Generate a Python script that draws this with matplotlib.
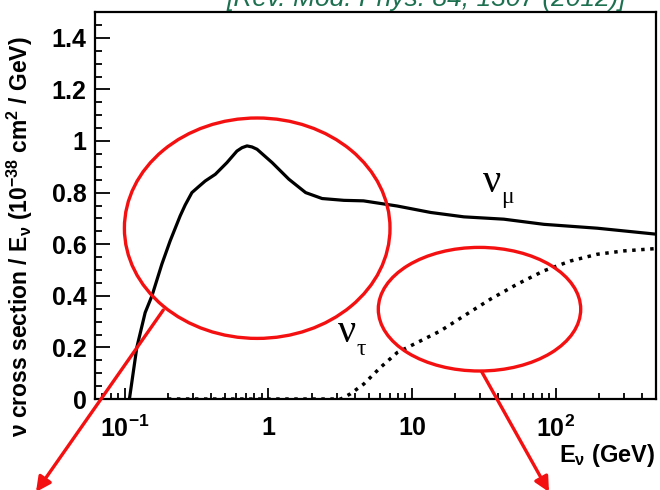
import matplotlib
matplotlib.use("Agg")
import matplotlib.pyplot as plt
from matplotlib.patches import Ellipse, FancyArrowPatch
from matplotlib.ticker import FixedLocator, FixedFormatter, MultipleLocator, LogLocator, NullFormatter

plt.rcParams.update({
    "font.family": "Liberation Sans",
    "font.weight": "bold",
    "mathtext.fontset": "custom",
    "mathtext.rm": "Liberation Sans:bold",
    "mathtext.it": "Liberation Sans:bold",
    "mathtext.bf": "Liberation Sans:bold",
    "mathtext.sf": "Liberation Sans:bold",
})

RED = "#f41010"
GREEN = "#1d7050"
W, H = 660, 490

# nu_mu CC cross section / E  (1e-38 cm^2 / GeV)
NUMU_E = [0.108, 0.1216, 0.139, 0.155, 0.1817, 0.2075, 0.2437, 0.264, 0.294, 0.326, 0.364,
          0.428, 0.515, 0.605, 0.656, 0.711, 0.77, 0.835, 1.065, 1.39, 1.82, 2.37, 3.36, 4.6,
          7.9, 13.5, 23, 43.6, 83, 195, 498]
NUMU_XS = [0.0, 0.2, 0.335, 0.4, 0.523, 0.613, 0.71, 0.752, 0.80, 0.822, 0.845,
           0.871, 0.916, 0.961, 0.974, 0.981, 0.977, 0.968, 0.916, 0.852, 0.80, 0.777, 0.770,
           0.768, 0.748, 0.723, 0.706, 0.697, 0.677, 0.662, 0.639]

# nu_tau
NUTAU_E = [0.2, 3.2, 3.73, 4.62, 6.03, 7.9, 10.9, 15.8, 23, 35.2, 54, 83, 127, 195, 299, 498]
NUTAU_XS = [0.0, 0.0, 0.02, 0.058, 0.122, 0.18, 0.219, 0.264, 0.322, 0.387, 0.445, 0.497,
            0.535, 0.561, 0.574, 0.583]

XTICKS = [0.1, 1, 10, 100]
XTICKLABELS = [r"10$^{-1}$", "1", "10", r"10$^{2}$"]

# red highlight ellipses, in pixels: (cx, cy, half-width, half-height)
ELLIPSES = [(257.2, 228.2, 132.8, 110.2), (479.5, 309.2, 101.2, 61.8)]
ARROWS = [((163.3, 310.0), (36.0, 492.0)), ((481.7, 371.7), (549.0, 492.0))]

fig = plt.figure(figsize=(6.6, 4.9), dpi=100)
fig.patch.set_facecolor("white")
ax = fig.add_axes([95 / W, 1 - 399 / H, (656 - 95) / W, (399 - 12) / H])

ax.plot(NUMU_E, NUMU_XS, color="black", lw=2.3, solid_joinstyle="round",
        solid_capstyle="round", zorder=3)
ax.plot(NUTAU_E, NUTAU_XS, color="black", lw=2.5, ls=(0, (1, 1.6)),
        dash_capstyle="butt", zorder=3)

ax.set_xscale("log")
ax.set_xlim(0.0622, 500)
ax.set_ylim(0, 1.5)

ax.xaxis.set_major_locator(FixedLocator(XTICKS))
ax.xaxis.set_major_formatter(FixedFormatter(XTICKLABELS))
ax.xaxis.set_minor_locator(LogLocator(base=10, subs=range(2, 10)))
ax.xaxis.set_minor_formatter(NullFormatter())
ax.yaxis.set_major_locator(MultipleLocator(0.2))
ax.yaxis.set_minor_locator(MultipleLocator(0.05))
ax.yaxis.set_major_formatter(lambda v, p: f"{v:g}")

ax.tick_params(axis="both", which="both", direction="in", top=False, right=False,
               colors="black", width=1.3, labelsize=18)
ax.tick_params(axis="y", which="major", length=10.5, pad=6)
ax.tick_params(axis="y", which="minor", length=5)
ax.tick_params(axis="x", which="major", length=8, pad=12)
ax.tick_params(axis="x", which="minor", length=4)
for s in ax.spines.values():
    s.set_linewidth(1.6)

fig.text(20 / W, 1 - 237 / H,
         r"$\nu$ cross section / E$_{\nu}$ (10$^{-38}$ cm$^{2}$ / GeV)",
         rotation=90, ha="center", va="center", fontsize=16.5)
fig.text(655 / W, 1 - 455 / H, r"E$_{\nu}$ (GeV)", ha="right", va="center", fontsize=17)

# curve labels
serif = "Liberation Serif"
ax.text(36, 0.84, "ν", fontsize=29, family=serif, weight="normal", ha="center", va="center")
ax.text(46, 0.782, "μ", fontsize=17, family=serif, weight="normal", ha="center", va="center")
ax.text(3.55, 0.256, "ν", fontsize=29, family=serif, weight="normal", ha="center", va="center")
ax.text(4.45, 0.19, "τ", fontsize=17, family=serif, weight="normal", ha="center", va="center")

# citation, cut by the top edge
fig.text(426 / W, 1 - 6 / H, "[Rev. Mod. Phys. 84, 1307 (2012)]", ha="center",
         va="baseline", fontsize=19, style="italic", weight="normal", color=GREEN)

for cx, cy, a, b in ELLIPSES:
    fig.add_artist(Ellipse((cx / W, 1 - cy / H), 2 * a / W, 2 * b / H,
                           transform=fig.transFigure, fill=False, ec=RED, lw=2.4, zorder=10))
for (x0, y0), (x1, y1) in ARROWS:
    fig.add_artist(FancyArrowPatch((x0 / W, 1 - y0 / H), (x1 / W, 1 - y1 / H),
                                   transform=fig.transFigure, arrowstyle="-|>",
                                   mutation_scale=22, color=RED, lw=2.4,
                                   shrinkA=0, shrinkB=0, zorder=10))

fig.savefig("out.png", dpi=100, facecolor="white")
